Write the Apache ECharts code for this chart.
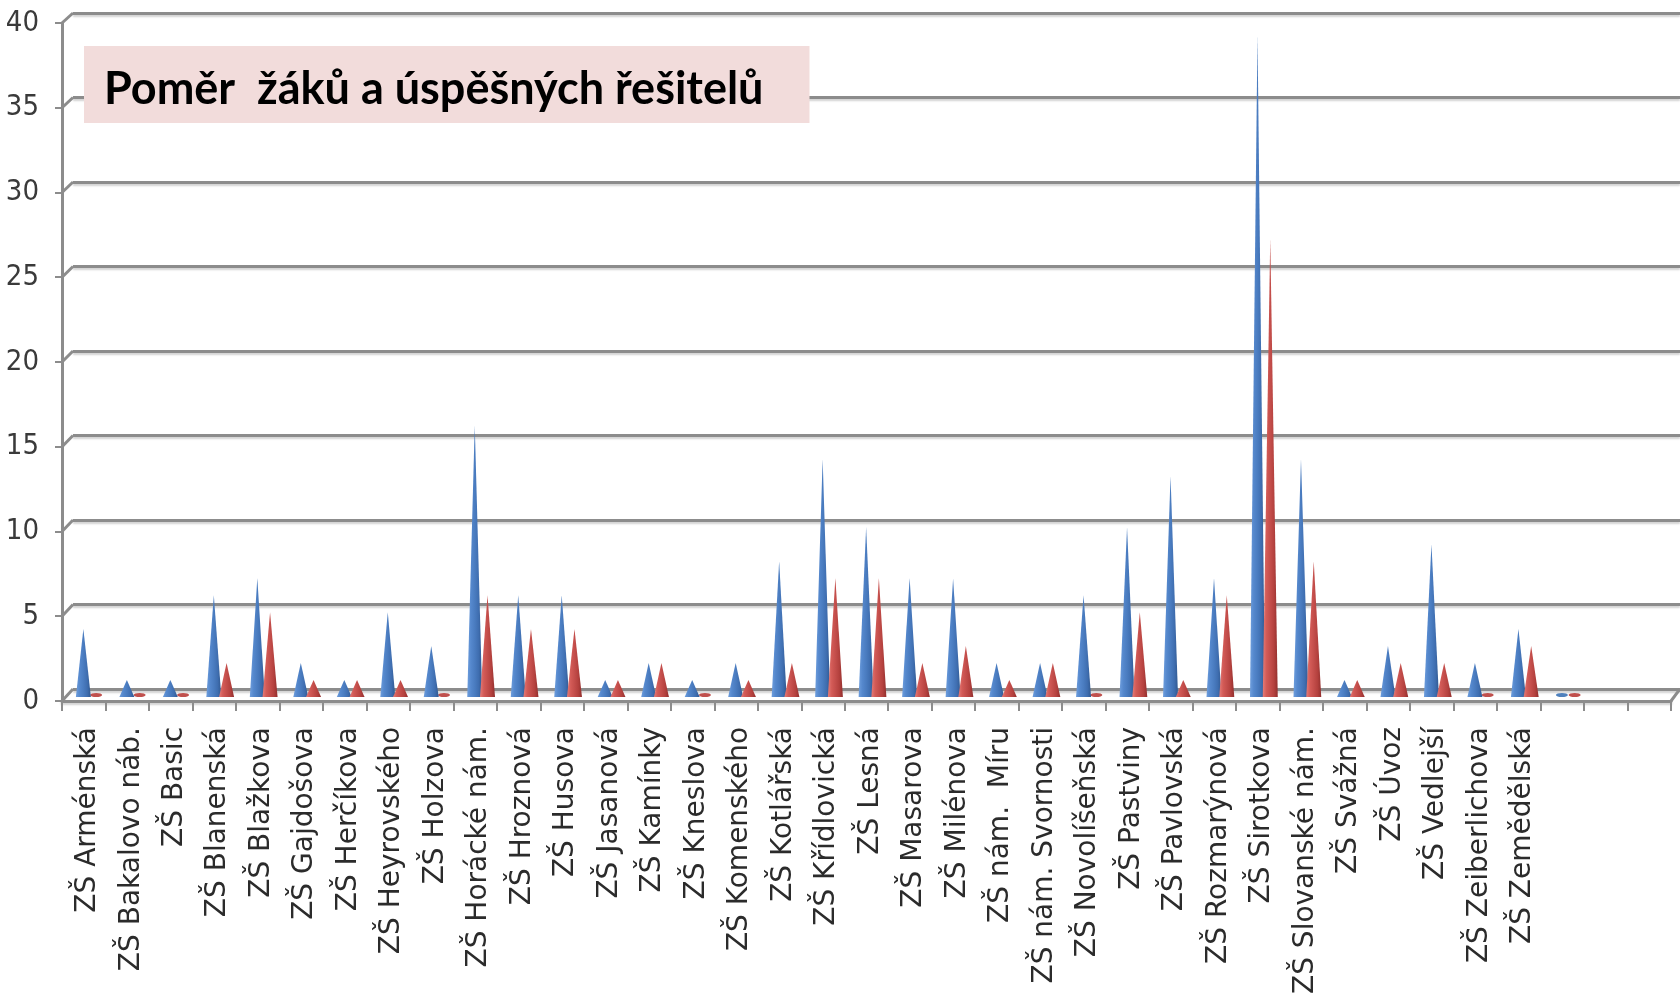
<!DOCTYPE html>
<html>
<head>
<meta charset="utf-8">
<script src="https://cdn.jsdelivr.net/npm/echarts@6/dist/echarts.min.js"></script>
<style>
  html, body { margin: 0; padding: 0; background: #ffffff; }
  #chart { width: 1680px; height: 997px; }
</style>
</head>
<body>
<div id="chart"></div>
<script>
const categories = [
  'ZŠ Arménská', 'ZŠ Bakalovo náb.', 'ZŠ Basic', 'ZŠ Blanenská', 'ZŠ Blažkova',
  'ZŠ Gajdošova', 'ZŠ Herčíkova', 'ZŠ Heyrovského', 'ZŠ Holzova', 'ZŠ Horácké nám.',
  'ZŠ Hroznová', 'ZŠ Husova', 'ZŠ Jasanová', 'ZŠ Kamínky', 'ZŠ Kneslova',
  'ZŠ Komenského', 'ZŠ Kotlářská', 'ZŠ Křídlovická', 'ZŠ Lesná', 'ZŠ Masarova',
  'ZŠ Milénova', 'ZŠ nám.  Míru', 'ZŠ nám. Svornosti', 'ZŠ Novolíšeňská', 'ZŠ Pastviny',
  'ZŠ Pavlovská', 'ZŠ Rozmarýnová', 'ZŠ Sirotkova', 'ZŠ Slovanské nám.', 'ZŠ Svážná',
  'ZŠ Úvoz', 'ZŠ Vedlejší', 'ZŠ Zeiberlichova', 'ZŠ Zemědělská', '', '', ''
];
const zaci = [4, 1, 1, 6, 7, 2, 1, 5, 3, 16, 6, 6, 1, 2, 1, 2, 8, 14, 10, 7, 7, 2, 2, 6, 10, 13, 7, 39, 14, 1, 3, 9, 2, 4, 0, null, null];
const resitele = [0, 0, 0, 2, 5, 1, 1, 1, 0, 6, 4, 4, 1, 2, 0, 1, 2, 7, 7, 2, 3, 1, 2, 0, 5, 1, 6, 27, 8, 1, 2, 2, 0, 3, 0, null, null];
const yTicks = [0, 5, 10, 15, 20, 25, 30, 35, 40];
const titleText = 'Poměr  žáků a úspěšných řešitelů';

const chart = echarts.init(document.getElementById('chart'), null, { renderer: 'canvas' });

function coneGrad(stops) {
  return new echarts.graphic.LinearGradient(0, 0, 1, 0, stops.map(function (c, i) {
    return { offset: i / (stops.length - 1), color: c };
  }));
}
const blueFill = coneGrad(['#6e9edd', '#5588cd', '#4a7cc0', '#3f6eb0', '#30588f']);
const redFill = coneGrad(['#e47c78', '#d35b57', '#c44e4b', '#b4413e', '#912f2d']);
const CONE = 'path://M0,100 L50,0 L100,100 Z';

const GRID_LINE = '#8c8c8c';
const Y_MIN = 0, Y_MAX = 40, Y_STEP = 5;
const gridLineStyle = {
  color: GRID_LINE, width: 3,
  shadowColor: 'rgba(0,0,0,0.18)', shadowBlur: 2, shadowOffsetY: 2
};

const option = {
  backgroundColor: '#ffffff',
  animation: false,
  title: {
    text: titleText,
    left: 84,
    top: 46,
    backgroundColor: '#f2dcdb',
    padding: [21, 46, 11, 20],
    textStyle: {
      fontFamily: 'Lato',
      fontWeight: 'bold',
      fontSize: 45,
      lineHeight: 45,
      color: '#000000'
    }
  },
  grid: [
    { left: 62, right: 9, top: 18, bottom: 300 },   // cones (middle depth)
    { left: 73, right: 0, top: 13, bottom: 308 },   // back wall
    { left: 62, right: 9, top: 23, bottom: 295 }    // front edge (axes, labels)
  ],
  xAxis: [
    { type: 'category', gridIndex: 0, data: categories, show: false },
    { type: 'category', gridIndex: 0, data: categories, show: false },
    { type: 'value', gridIndex: 1, show: false, min: 0, max: 1 },
    {
      type: 'category', gridIndex: 2, data: categories,
      axisLine: { show: true, lineStyle: gridLineStyle },
      axisTick: { show: true, length: 10, lineStyle: { color: GRID_LINE, width: 2 } },
      axisLabel: {
        interval: 0, rotate: 90, margin: 26,
        verticalAlign: 'top', lineHeight: 8,
        fontFamily: 'DejaVu Sans', fontSize: 28, color: '#2b2b2b'
      },
      splitLine: { show: false }
    }
  ],
  yAxis: [
    { type: 'value', gridIndex: 0, min: Y_MIN, max: Y_MAX, interval: Y_STEP, show: false },
    {
      type: 'value', gridIndex: 1, min: Y_MIN, max: Y_MAX, interval: Y_STEP,
      axisLine: { show: false }, axisTick: { show: false }, axisLabel: { show: false },
      splitLine: { show: true, lineStyle: gridLineStyle }
    },
    {
      type: 'value', gridIndex: 2, min: Y_MIN, max: Y_MAX, interval: Y_STEP,
      axisLine: { show: true, lineStyle: { color: GRID_LINE, width: 3 } },
      axisTick: { show: true, length: 7, lineStyle: { color: GRID_LINE, width: 2 } },
      splitLine: { show: false },
      axisLabel: {
        margin: 23,
        fontFamily: 'Liberation Sans Narrow, DejaVu Sans Condensed, Liberation Sans',
        fontSize: 29, color: '#3a3a3a',
        formatter: function (v) { return yTicks.indexOf(v) >= 0 ? String(v) : ''; }
      }
    }
  ],
  series: [
    {
      name: 'Počet žáků', type: 'pictorialBar', xAxisIndex: 0, yAxisIndex: 0,
      symbol: CONE, symbolSize: ['100%', '100%'], symbolOffset: [6, 0],
      barWidth: 15, barGap: '-15%',
      itemStyle: { color: blueFill },
      data: zaci, z: 5
    },
    {
      name: 'Úspěšní řešitelé', type: 'pictorialBar', xAxisIndex: 0, yAxisIndex: 0,
      symbol: CONE, symbolSize: ['100%', '100%'], symbolOffset: [6, 0],
      barWidth: 15, barGap: '-15%',
      itemStyle: { color: redFill },
      data: resitele, z: 6
    },
    {
      name: 'Počet žáků (0)', type: 'pictorialBar', xAxisIndex: 1, yAxisIndex: 0,
      symbol: 'circle', symbolSize: [12, 4], symbolPosition: 'start', symbolOffset: [6, 0],
      barWidth: 15, barGap: '-15%',
      itemStyle: { color: '#4f81bd' },
      data: zaci.map(function (v) { return v === 0 ? 0 : '-'; }), z: 4
    },
    {
      name: 'Úspěšní řešitelé (0)', type: 'pictorialBar', xAxisIndex: 1, yAxisIndex: 0,
      symbol: 'circle', symbolSize: [12, 4], symbolPosition: 'start', symbolOffset: [6, 0],
      barWidth: 15, barGap: '-15%',
      itemStyle: { color: '#c0504d' },
      data: resitele.map(function (v) { return v === 0 ? 0 : '-'; }), z: 4
    }
  ]
};
chart.setOption(option);

// 3D wall connectors: join front-edge ticks to back-wall gridlines, derived from the axes.
function gridRect(i) {
  return chart.getModel().getComponent('grid', i).coordinateSystem.getRect();
}
const front = gridRect(2), back = gridRect(1);
const connectors = yTicks.map(function (v) {
  const yf = chart.convertToPixel({ yAxisIndex: 2 }, v);
  const yb = chart.convertToPixel({ yAxisIndex: 1 }, v);
  return {
    type: 'polyline', silent: true, z: 3,
    shape: { points: [[front.x, yf], [back.x, yb]] },
    style: { stroke: GRID_LINE, lineWidth: 3, fill: null }
  };
});
const y0f = chart.convertToPixel({ yAxisIndex: 2 }, Y_MIN);
const y0b = chart.convertToPixel({ yAxisIndex: 1 }, Y_MIN);
connectors.push({
  type: 'polyline', silent: true, z: 3,
  shape: { points: [[front.x + front.width, y0f], [back.x + back.width, y0b]] },
  style: { stroke: GRID_LINE, lineWidth: 3, fill: null }
});
chart.setOption({ graphic: connectors });
</script>
</body>
</html>
